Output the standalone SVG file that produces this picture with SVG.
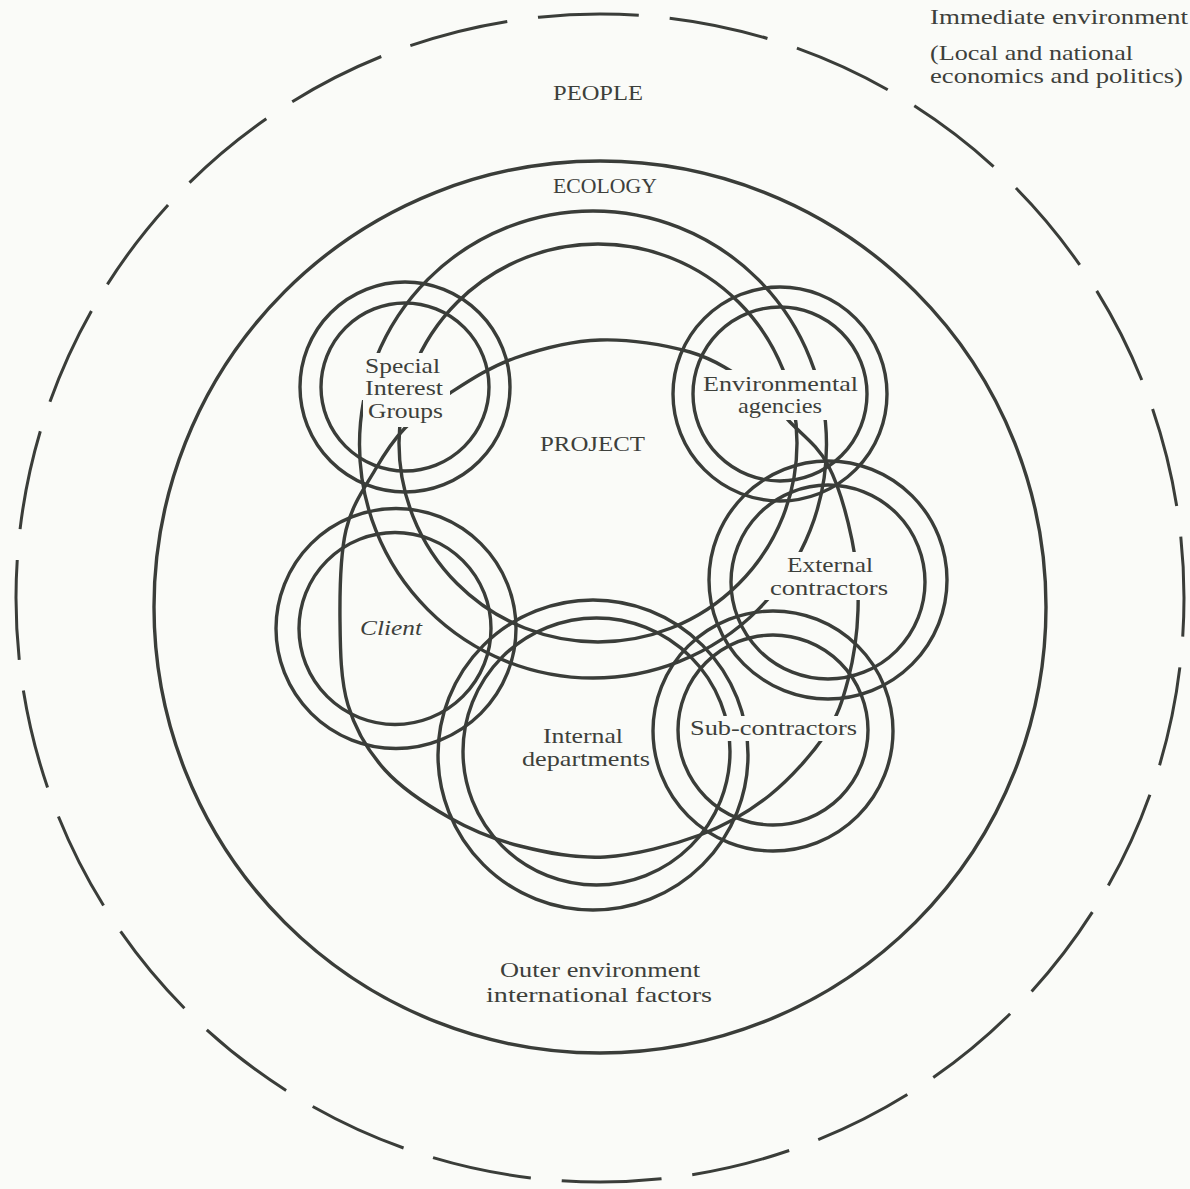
<svg xmlns="http://www.w3.org/2000/svg" width="1190" height="1189" viewBox="0 0 1190 1189">
<defs>
<style>
.ln{fill:none;stroke:#3a3d39;stroke-width:3.4}
.dash{fill:none;stroke:#3a3d39;stroke-width:3;stroke-dasharray:100 31}
.bg{fill:#fafbf8}
text{font-family:"Liberation Serif","DejaVu Serif",serif;font-size:21px;fill:#3d403b}
</style>
</defs>
<rect x="0" y="0" width="1190" height="1189" class="bg"/>

<g id="people">
<circle class="dash" cx="600" cy="598" r="584" transform="rotate(-96 600 598)"/>
<text x="553" y="100" textLength="90" lengthAdjust="spacingAndGlyphs">PEOPLE</text>
</g>
<g id="immediate-environment">
<text x="930" y="24" textLength="258" lengthAdjust="spacingAndGlyphs">Immediate environment</text>
<text x="930" y="60" textLength="203" lengthAdjust="spacingAndGlyphs">(Local and national</text>
<text x="930" y="83" textLength="253" lengthAdjust="spacingAndGlyphs">economics and politics)</text>
</g>
<g id="ecology">
<circle class="ln" cx="600" cy="607" r="446" stroke-width="3"/>
<text x="553" y="193" textLength="104" lengthAdjust="spacingAndGlyphs">ECOLOGY</text>
</g>
<g id="outer-environment">
<text x="500" y="977" textLength="200" lengthAdjust="spacingAndGlyphs">Outer environment</text>
<text x="486" y="1002" textLength="226" lengthAdjust="spacingAndGlyphs">international  factors</text>
</g>

<g id="connectors">
<path class="ln" d="M600,340 C629.2,339 664.7,344.5 690,352 C715.3,359.5 735.3,373.3 752,385 C768.7,396.7 777.3,408.7 790,422 C802.7,435.3 817.7,445.3 828,465 C838.3,484.7 847,515.8 852,540 C857,564.2 858.7,586.7 858,610 C857.3,633.3 853.5,659.2 848,680 C842.5,700.8 838,715.8 825,735 C812,754.2 790.8,778.3 770,795 C749.2,811.7 727.5,824.7 700,835 C672.5,845.3 635,855.2 605,857 C575,858.8 545.8,852.5 520,846 C494.2,839.5 472.5,830.7 450,818 C427.5,805.3 402,788.8 385,770 C368,751.2 355.5,730 348,705 C340.5,680 340.3,649.2 340,620 C339.7,590.8 340.2,555 346,530 C351.8,505 365.2,487 375,470 C384.8,453 392.5,440.8 405,428 C417.5,415.2 431.7,404.7 450,393 C468.3,381.3 490,366.8 515,358 C540,349.2 570.8,341 600,340 Z"/>
</g>

<g id="project">
<circle class="ln" cx="593" cy="444.5" r="233.5"/>
<circle class="ln" cx="598" cy="443" r="199"/>
<text x="540" y="451" textLength="105" lengthAdjust="spacingAndGlyphs">PROJECT</text>
</g>

<g id="internal-departments">
<circle class="ln" cx="593" cy="755" r="155"/>
<circle class="ln" cx="596.5" cy="751.5" r="133.5"/>
<text x="543" y="743" textLength="80" lengthAdjust="spacingAndGlyphs">Internal</text>
<text x="522" y="766" textLength="128" lengthAdjust="spacingAndGlyphs">departments</text>
</g>

<g id="client">
<circle class="ln" cx="396" cy="628.5" r="120"/>
<circle class="ln" cx="395" cy="628.5" r="96"/>
<text x="360" y="635" textLength="62" lengthAdjust="spacingAndGlyphs" font-style="italic">Client</text>
</g>

<g id="special-interest-groups">
<rect class="bg" x="360" y="353" width="85" height="25"/>
<rect class="bg" x="360" y="375" width="90" height="25"/>
<rect class="bg" x="363" y="399" width="87" height="28"/>
<circle class="ln" cx="405" cy="387" r="105"/>
<circle class="ln" cx="405" cy="387" r="84"/>
<text x="365" y="373" textLength="75" lengthAdjust="spacingAndGlyphs">Special</text>
<text x="365" y="395" textLength="78" lengthAdjust="spacingAndGlyphs">Interest</text>
<text x="368" y="418" textLength="75" lengthAdjust="spacingAndGlyphs">Groups</text>
</g>

<g id="environmental-agencies">
<rect class="bg" x="699" y="370" width="163" height="26"/>
<rect class="bg" x="733" y="396" width="94" height="24"/>
<circle class="ln" cx="780" cy="394" r="107"/>
<circle class="ln" cx="780" cy="394" r="87"/>
<text x="703" y="391" textLength="155" lengthAdjust="spacingAndGlyphs">Environmental</text>
<text x="738" y="413" textLength="84" lengthAdjust="spacingAndGlyphs">agencies</text>
</g>

<g id="external-contractors">
<rect class="bg" x="782" y="552" width="96" height="26"/>
<rect class="bg" x="765" y="577" width="128" height="23"/>
<circle class="ln" cx="828" cy="580" r="119"/>
<circle class="ln" cx="828" cy="582" r="97"/>
<text x="787" y="572" textLength="86" lengthAdjust="spacingAndGlyphs">External</text>
<text x="770" y="595" textLength="118" lengthAdjust="spacingAndGlyphs">contractors</text>
</g>

<g id="sub-contractors">
<rect class="bg" x="686" y="716" width="175" height="25"/>
<circle class="ln" cx="773" cy="731" r="120"/>
<circle class="ln" cx="773" cy="730" r="95"/>
<text x="690" y="735" textLength="167" lengthAdjust="spacingAndGlyphs">Sub-contractors</text>
</g>
</svg>
